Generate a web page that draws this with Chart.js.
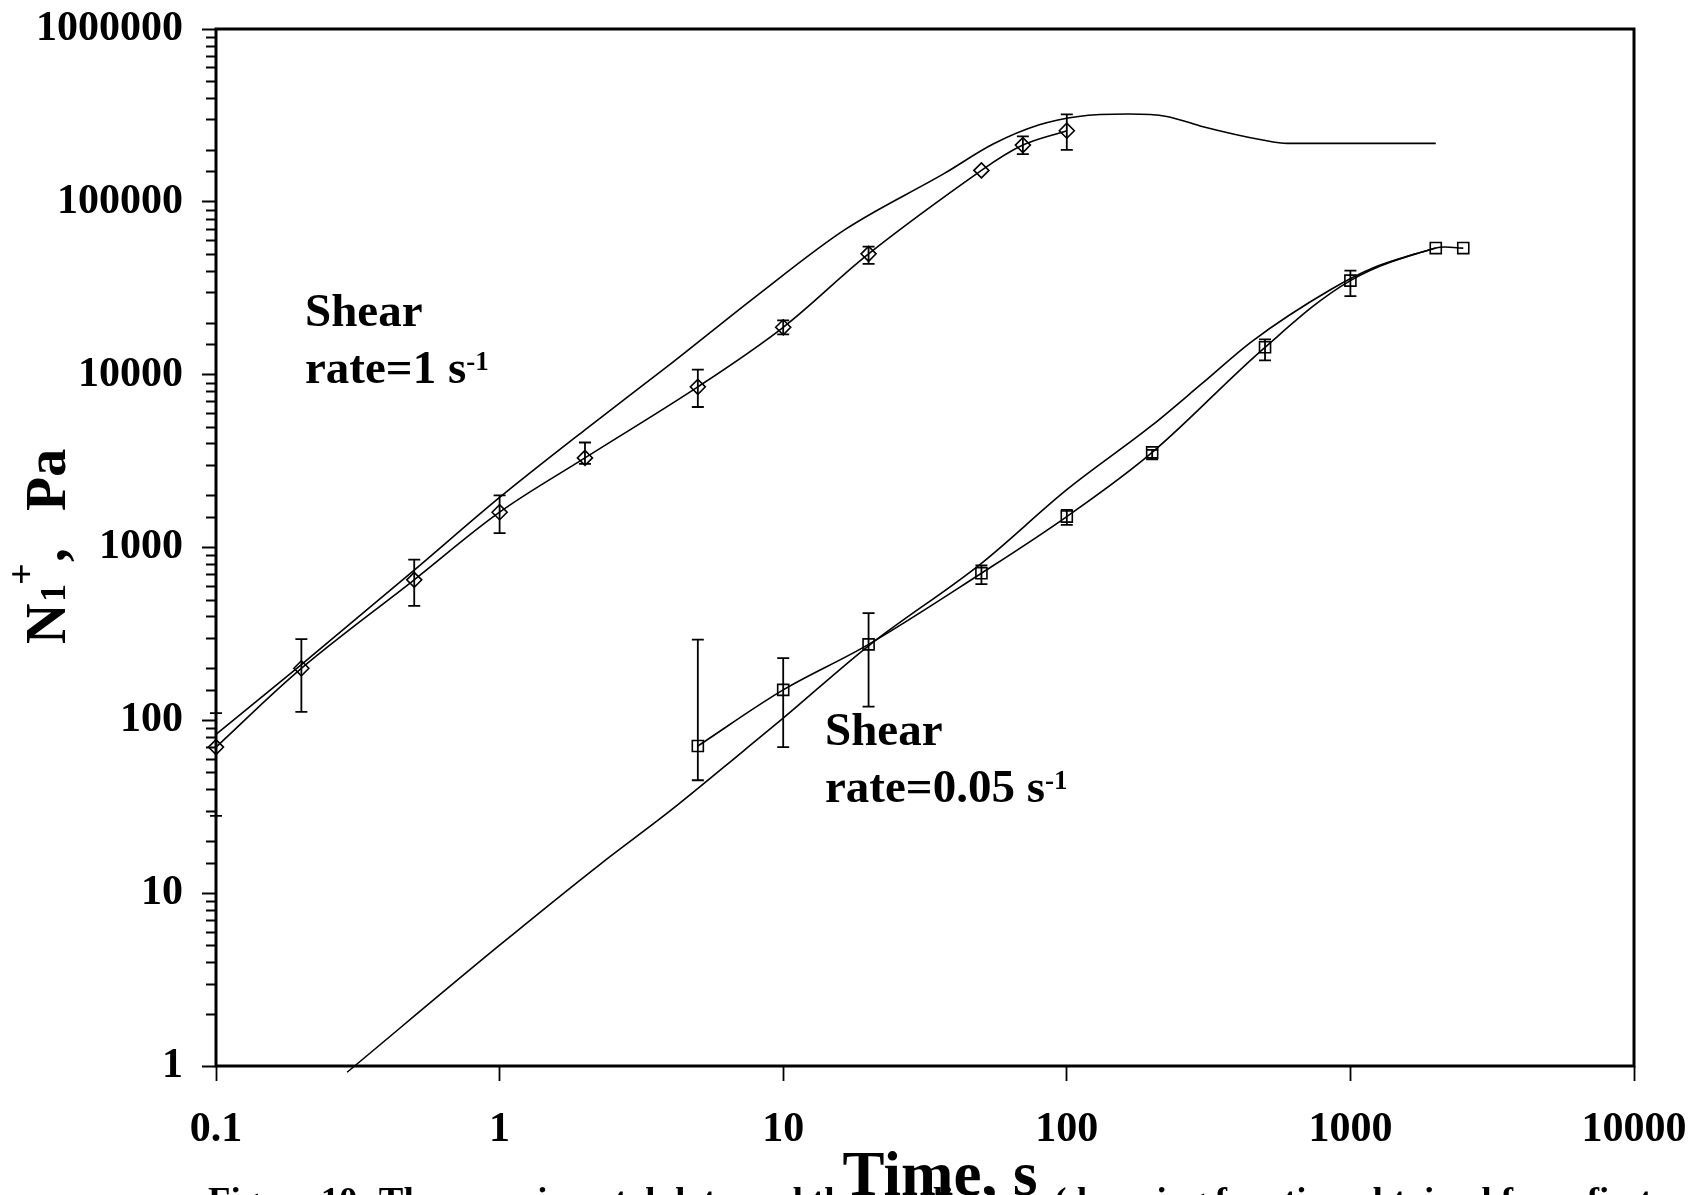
<!DOCTYPE html>
<html>
<head>
<meta charset="utf-8">
<script src="https://cdn.jsdelivr.net/npm/chart.js@4.4.1/dist/chart.umd.min.js"></script>
<style>
  html, body { margin: 0; padding: 0; background: #fff; }
  canvas { display: block; }
</style>
</head>
<body>
<canvas id="grafico" width="1689" height="1195"></canvas>
<script>
// Datos experimentales, velocidad de corte 1 s-1 (rombos)
const tiempoExp1 = [0.1, 0.2, 0.5, 1, 2, 5, 10, 20, 50, 70, 100];
const n1Exp1 = [70, 200, 650, 1600, 3300, 8500, 18800, 50000, 152000, 213000, 258000];
const errInf1 = [28, 112, 460, 1210, 3050, 6500, 17100, 43800, null, 189000, 200000];
const errSup1 = [110, 295, 850, 2000, 4050, 10700, 20600, 55100, null, 239000, 321000];

// Prediccion, velocidad de corte 1 s-1 (linea sin marcadores)
const tiempoMod1 = [0.1, 0.2, 0.5, 1, 2, 4, 8, 16.5, 37, 55, 80, 110, 165, 225, 295, 490, 600, 2000];
const n1Mod1 = [83, 210, 740, 1950, 4800, 11500, 28300, 69000, 146000, 216000, 279000, 312000, 322000, 312000, 275000, 228000, 218000, 218000];

// Datos experimentales, velocidad de corte 0.05 s-1 (cuadrados)
const tiempoExp2 = [5, 10, 20, 50, 100, 200, 500, 1000, 2000, 2500];
const n1Exp2 = [71, 150, 275, 710, 1510, 3550, 14400, 35000, 54000, 54000];
const errInf2 = [45, 70, 120, 614, 1350, 3240, 12100, 28500, null, null];
const errSup2 = [293, 229, 417, 787, 1650, 3670, 16000, 40000, null, null];

// Prediccion, velocidad de corte 0.05 s-1
const tiempoMod2 = [0.29, 1, 2.25, 4, 7.2, 10, 20, 50, 100, 200, 300, 450, 850, 1200, 1700, 2000];
const n1Mod2 = [0.92, 5, 14.6, 30, 66, 103, 270, 810, 2160, 5100, 8900, 15600, 31000, 41400, 50000, 54000];

const FUENTE = '"Liberation Serif", "Times New Roman", serif';

const puntos = (xs, ys) => xs.map((x, i) => ({ x, y: ys[i] }));
const esPotencia = v => Math.abs(Math.log10(v) - Math.round(Math.log10(v))) < 1e-6;
const formato = v => v < 1 ? v.toFixed(1) : String(Math.round(v));

// Barras de error verticales con topes
const barrasError = {
  id: 'barrasError',
  afterDatasetsDraw(chart) {
    const { ctx, scales: { x, y } } = chart;
    ctx.save();
    ctx.strokeStyle = '#000';
    ctx.lineWidth = 1.8;
    chart.data.datasets.forEach(ds => {
      if (!ds.errInf) return;
      ds.data.forEach((p, i) => {
        const lo = ds.errInf[i], hi = ds.errSup[i];
        if (lo == null || hi == null) return;
        const px = x.getPixelForValue(p.x);
        const y1 = y.getPixelForValue(lo), y2 = y.getPixelForValue(hi);
        ctx.beginPath();
        ctx.moveTo(px, y1); ctx.lineTo(px, y2);
        ctx.moveTo(px - 6, y1); ctx.lineTo(px + 6, y1);
        ctx.moveTo(px - 6, y2); ctx.lineTo(px + 6, y2);
        ctx.stroke();
      });
    });
    ctx.restore();
  }
};

function escribir(ctx, x, y, partes) {
  let cx = x;
  partes.forEach(p => {
    ctx.font = `bold ${p.size}px ${FUENTE}`;
    ctx.fillText(p.text, cx, y - (p.rise || 0));
    cx += ctx.measureText(p.text).width;
  });
}

// Marco, marcas menores, titulos y anotaciones
const decoracion = {
  id: 'decoracion',
  afterDraw(chart) {
    const { ctx, chartArea: a, scales: { y } } = chart;
    ctx.save();
    ctx.strokeStyle = '#000';
    ctx.fillStyle = '#000';

    // marcas menores del eje y
    ctx.lineWidth = 2;
    ctx.beginPath();
    y.ticks.forEach(t => {
      if (esPotencia(t.value)) return;
      const py = Math.round(y.getPixelForValue(t.value)) + 0.5;
      ctx.moveTo(a.left - 10, py);
      ctx.lineTo(a.left, py);
    });
    ctx.stroke();

    // marco
    ctx.lineWidth = 3;
    ctx.strokeRect(a.left, a.top, a.right - a.left, a.bottom - a.top);

    // pie de figura (cortado por el borde inferior)
    const pie = 'Figure 10: The experimental data and the predictions (damping function obtained from first';
    ctx.font = `bold 32px ${FUENTE}`;
    const tam = 32 * 1445 / ctx.measureText(pie).width;
    ctx.font = `bold ${tam}px ${FUENTE}`;
    ctx.textBaseline = 'alphabetic';
    ctx.textAlign = 'left';
    ctx.fillText(pie, 208, 1188 + 0.662 * tam);

    // titulo eje x
    ctx.font = `bold 63px ${FUENTE}`;
    ctx.textAlign = 'center';
    ctx.fillText('Time, s', 940, 1195);
    ctx.textAlign = 'left';

    // titulo eje y (rotado)
    ctx.save();
    ctx.translate(65, 644);
    ctx.rotate(-Math.PI / 2);
    ctx.font = `bold 56px ${FUENTE}`;
    ctx.fillText('N', 0, 0);
    ctx.font = `bold 36px ${FUENTE}`;
    ctx.fillText('1', 42, 0);
    ctx.font = `bold 38px ${FUENTE}`;
    ctx.fillText('+', 59, -31);
    ctx.font = `bold 56px ${FUENTE}`;
    ctx.fillText(',', 82, 0);
    ctx.fillText('Pa', 133, 0);
    ctx.restore();

    // anotaciones
    escribir(ctx, 305, 326, [{ text: 'Shear', size: 47 }]);
    escribir(ctx, 305, 383, [{ text: 'rate=1 s', size: 47 }, { text: '-1', size: 27, rise: 13 }]);
    escribir(ctx, 825, 745, [{ text: 'Shear', size: 47 }]);
    escribir(ctx, 825, 802, [{ text: 'rate=0.05 s', size: 47 }, { text: '-1', size: 27, rise: 13 }]);

    ctx.restore();
  }
};

const colorMarca = c => esPotencia(c.tick.value) ? '#000' : 'rgba(0,0,0,0)';

new Chart(document.getElementById('grafico'), {
  type: 'line',
  data: {
    datasets: [
      {
        label: 'Modelo 1 s-1',
        data: puntos(tiempoMod1, n1Mod1),
        borderColor: '#000', borderWidth: 1.6,
        pointRadius: 0, cubicInterpolationMode: 'monotone', clip: false
      },
      {
        label: 'Experimental 1 s-1',
        data: puntos(tiempoExp1, n1Exp1),
        errInf: errInf1, errSup: errSup1,
        borderColor: '#000', borderWidth: 1.6, tension: 0.35,
        pointStyle: 'rectRot', pointRadius: 7.5, pointBorderWidth: 1.6,
        pointBorderColor: '#000', pointBackgroundColor: 'rgba(0,0,0,0)', clip: false
      },
      {
        label: 'Modelo 0.05 s-1',
        data: puntos(tiempoMod2, n1Mod2),
        borderColor: '#000', borderWidth: 1.6,
        pointRadius: 0, cubicInterpolationMode: 'monotone', clip: false
      },
      {
        label: 'Experimental 0.05 s-1',
        data: puntos(tiempoExp2, n1Exp2),
        errInf: errInf2, errSup: errSup2,
        borderColor: '#000', borderWidth: 1.6, tension: 0.35,
        pointStyle: 'rect', pointRadius: 7.8, pointBorderWidth: 1.6,
        pointBorderColor: '#000', pointBackgroundColor: 'rgba(0,0,0,0)', clip: false
      }
    ]
  },
  options: {
    responsive: false,
    animation: false,
    layout: { padding: { top: 29, right: 55, left: 0, bottom: 0 } },
    plugins: { legend: { display: false }, tooltip: { enabled: false } },
    scales: {
      x: {
        type: 'logarithmic', min: 0.1, max: 10000,
        afterFit: s => { s.height = 129; s.paddingLeft = 0; s.paddingRight = 0; },
        border: { display: false },
        grid: {
          drawOnChartArea: false, drawTicks: true, tickLength: 15,
          tickWidth: 1.8, tickColor: colorMarca, color: colorMarca
        },
        ticks: {
          autoSkip: false, maxRotation: 0, padding: 24, color: '#000',
          font: { family: FUENTE, size: 42, weight: 'bold' },
          callback: v => esPotencia(v) ? formato(v) : ''
        }
      },
      y: {
        type: 'logarithmic', min: 1, max: 1000000,
        afterFit: s => { s.width = 216; s.paddingTop = 0; s.paddingBottom = 0; },
        border: { display: false },
        grid: {
          drawOnChartArea: false, drawTicks: true, tickLength: 14,
          tickWidth: 2, tickColor: colorMarca, color: colorMarca
        },
        ticks: {
          autoSkip: false, padding: 19, color: '#000',
          font: { family: FUENTE, size: 42, weight: 'bold' },
          callback: v => esPotencia(v) ? formato(v) : ''
        }
      }
    }
  },
  plugins: [barrasError, decoracion]
});
</script>
</body>
</html>
